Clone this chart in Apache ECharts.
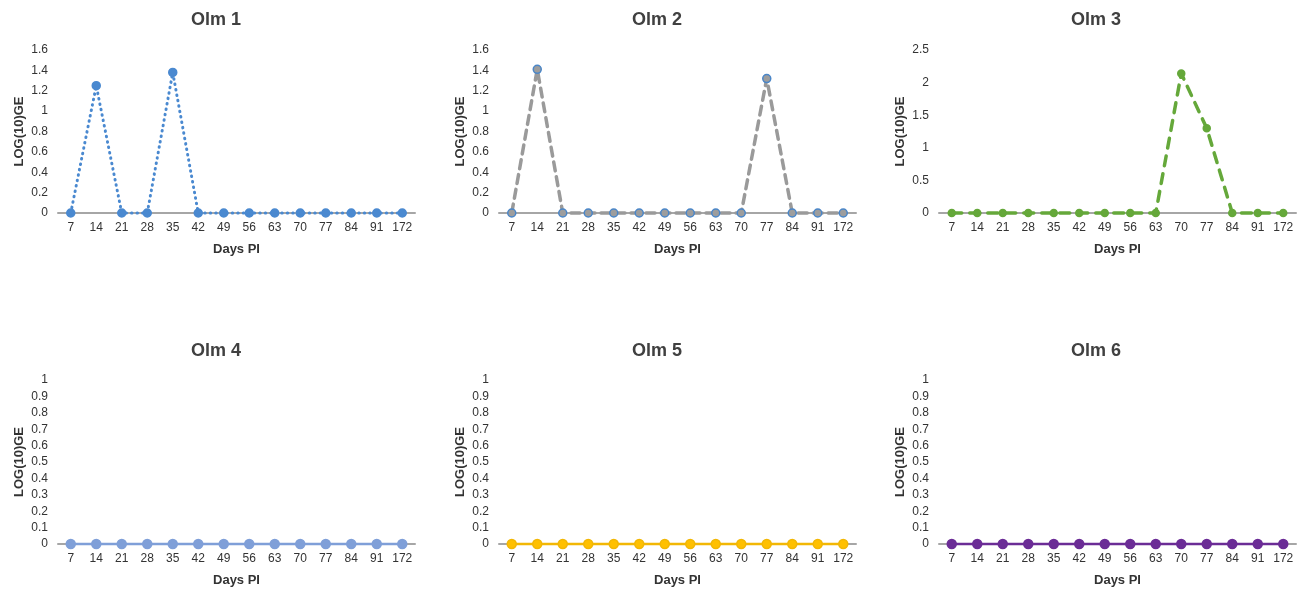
<!DOCTYPE html>
<html>
<head>
<meta charset="utf-8">
<script src="https://cdn.jsdelivr.net/npm/echarts@6/dist/echarts.min.js"></script>
<style>
html,body{margin:0;padding:0;background:#fff;}
#chart{width:1304px;height:589px;}
</style>
</head>
<body>
<div id="chart"></div>
<script>
// ---- data ----
var days = ['7','14','21','28','35','42','49','56','63','70','77','84','91','172'];
var titles = ['Olm 1','Olm 2','Olm 3','Olm 4','Olm 5','Olm 6'];
var olm1 = [0,1.25,0,0,1.38,0,0,0,0,0,0,0,0,0];
var olm2 = [0,1.41,0,0,0,0,0,0,0,0,1.32,0,0,0];
var olm3 = [0,0,0,0,0,0,0,0,0,2.14,1.30,0,0,0];
var olm4 = [0,0,0,0,0,0,0,0,0,0,0,0,0,0];
var olm5 = [0,0,0,0,0,0,0,0,0,0,0,0,0,0];
var olm6 = [0,0,0,0,0,0,0,0,0,0,0,0,0,0];
var yMax = [1.6, 1.6, 2.5, 1, 1, 1];
var yStep = [0.2, 0.2, 0.5, 0.1, 0.1, 0.1];
var yName = 'LOG(10)GE';
var xName = 'Days PI';

var seriesData = [olm1, olm2, olm3, olm4, olm5, olm6];

// ---- layout / style ----
var gridLefts = [58, 499, 939];
var gridWidth = 357;
var gridTops = [50, 380];
var gridHeights = [163, 164];
var titleCenters = [211, 652, 1091];
var titleTops = [6, 337];

var styles = [
  {color:'#4a89d0', type:[0.5,5], width:3, symbolColor:'#4a89d0', border:'#4a89d0', size:8},
  {color:'#9a9a9a', type:[9,6], width:3.5, symbolColor:'#9d9d9d', border:'#4a86c8', size:8},
  {color:'#65a83a', type:[10,8], width:3.5, symbolColor:'#65a83a', border:'#65a83a', size:7},
  {color:'#7f9fd8', type:'solid', width:2.5, symbolColor:'#7f9fd8', border:'#7f9fd8', size:9},
  {color:'#f2b705', type:'solid', width:2.5, symbolColor:'#ffc000', border:'#f2b705', size:9},
  {color:'#6b2c96', type:'solid', width:2.5, symbolColor:'#6b2c96', border:'#6b2c96', size:9}
];

var fontFam = '"Liberation Sans", Arial, sans-serif';
var grids = [], xAxes = [], yAxes = [], series = [], tit = [];
for (var i = 0; i < 6; i++) {
  var col = i % 3, row = Math.floor(i / 3);
  grids.push({left: gridLefts[col], top: gridTops[row], width: gridWidth, height: gridHeights[row], containLabel:false});
  tit.push({
    text: titles[i], left: titleCenters[col], top: titleTops[row], textAlign: 'center',
    textStyle: {fontFamily: fontFam, fontSize: 18, fontWeight: 'bold', color: '#404040'}
  });
  xAxes.push({
    type: 'category', gridIndex: i, data: days, boundaryGap: true,
    axisLine: {show: true, lineStyle: {color: '#a6a6a6', width: 2}},
    axisTick: {show: false},
    axisLabel: {color: '#333', fontSize: 12, fontFamily: fontFam, margin: 9, interval: 0},
    splitLine: {show: false},
    name: xName, nameLocation: 'middle', nameGap: 30,
    nameTextStyle: {fontFamily: fontFam, fontSize: 13, fontWeight: 'bold', color: '#333'}
  });
  yAxes.push({
    type: 'value', gridIndex: i, min: 0, max: yMax[i], interval: yStep[i],
    axisLine: {show: false}, axisTick: {show: false}, splitLine: {show: false},
    axisLabel: {color: '#333', fontSize: 12, fontFamily: fontFam, margin: 10},
    name: yName, nameLocation: 'middle', nameGap: 32,
    nameTextStyle: {fontFamily: fontFam, fontSize: 13, fontWeight: 'bold', color: '#333'}
  });
  var s = styles[i];
  series.push({
    type: 'line', xAxisIndex: i, yAxisIndex: i, data: seriesData[i],
    symbol: 'circle', symbolSize: s.size, clip: false, animation: false,
    lineStyle: {color: s.color, type: s.type, width: s.width, cap: 'round'},
    itemStyle: {color: s.symbolColor, borderColor: s.border, borderWidth: 1.5}
  });
}

var chart = echarts.init(document.getElementById('chart'), null, {renderer: 'canvas'});
chart.setOption({
  backgroundColor: '#ffffff',
  animation: false,
  title: tit,
  grid: grids,
  xAxis: xAxes,
  yAxis: yAxes,
  series: series
});
</script>
</body>
</html>
